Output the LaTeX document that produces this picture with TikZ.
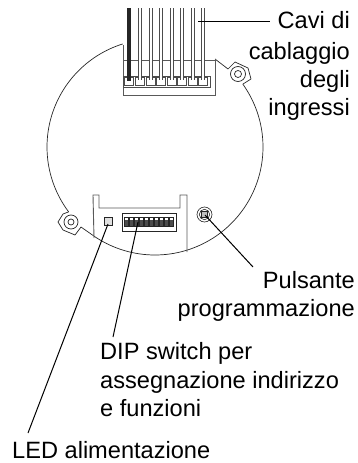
\documentclass[tikz,border=0pt]{standalone}
\usepackage{fontspec}
\setmainfont{Liberation Sans}
\definecolor{gline}{gray}{0.35}
\tikzset{
  body/.style={draw=black!85,line width=0.7pt},
  wall/.style={draw=gline,line width=0.9pt},
  leader/.style={draw=black,line width=1pt},
  lab/.style={font=\fontsize{23.6}{28.4}\selectfont,inner sep=0pt},
  wire/.style={draw=black!70,line width=4.2pt},
  wirecore/.style={draw=white,line width=1.8pt},
  term/.style={draw=black!70,fill=white,line width=1pt},
  cell/.style={draw=black!70,fill=white,line width=0.7pt},
}
\begin{document}
\begin{tikzpicture}[x=1pt,y=-1pt]
\useasboundingbox (0,0) rectangle (357,463);
% body outline
\draw[body] plot[domain=143.1:252.6,samples=60] ({155+108*cos(\x)},{147+108*sin(\x)});
\draw[body] plot[domain=-35.6:124.6,samples=80] ({155+108*cos(\x)},{147+108*sin(\x)});
\coordinate (lt) at ({155+108*cos(143.1)},{147+108*sin(143.1)});
\coordinate (lb) at ({155+108*cos(124.6)},{147+108*sin(124.6)});
\coordinate (rb) at ({155+108*cos(-35.6)},{147+108*sin(-35.6)});
\draw[body,line join=round] (lt) -- (63,214) -- (58,222) -- (63,230) -- (75,235) -- (81,227) -- (lb);
\draw[body,line join=round] (rb) -- (251,79) -- (248,68) -- (235,62) -- (228,69) -- (215,59);
\draw[body] (238,74) circle[radius=7.5];
\draw[body] (238,74) circle[radius=3.5];
\draw[body] (71,222) circle[radius=7];
\draw[body] (71,222) circle[radius=3];
% upper housing
\draw[wall] (123,45) -- (123,95) -- (215,95) -- (215,59);
\draw[wall] (123,60) -- (215,60);
% connector
\draw[term] (123,76) rectangle (210,87);
\foreach \x in {129,140,151,161,172,182,193,203}{
  \draw[cell] (\x-4.2,77.5) rectangle (\x+4.2,85.5);
}
\foreach \x in {140,151,161,172,182,193,203}{
  \draw[wire] (\x,8) -- (\x,80);
  \draw[wirecore] (\x,8) -- (\x,82);
}
\draw[black!85,line width=3.6pt] (129,8) -- (129,81);
% lower bay
\draw[wall] (94,238) -- (93,195) -- (99,195) -- (99,208) -- (180,208) -- (180,195) -- (187,195) -- (187,252);
% LED
\node[draw=black!85,line width=1pt,minimum size=8pt,inner sep=0pt,fill=black!12] (led) at (108.5,221.5) {};
% DIP switch
\node[draw=black!85,line width=0.7pt,minimum width=54pt,minimum height=18pt,inner sep=0pt] (dip) at (149,222.5) {};
\foreach \i in {0,...,9}{
  \draw[black!85,line width=0.7pt,fill=white] (124.5+\i*5,217) rectangle (128+\i*5,226);
  \fill[black!70] (124.5+\i*5,220) rectangle (128+\i*5,226);
}
% button
\node[draw=black!85,circle,line width=0.6pt,minimum size=15pt,inner sep=0pt] (btn) at (204.5,214.5) {};
\draw[black!85,line width=0.6pt] (204.5,214.5) circle[radius=5.2];
\node[draw=black!85,line width=0.7pt,minimum size=6pt,inner sep=0pt,fill=black!25] (btnc) at (204.5,214.5) {};
% labels
\node[lab,anchor=base east] (cavi) at (350,28) {Cavi di};
\node[lab,anchor=base east] (cab) at (350,59) {cablaggio};
\node[lab,anchor=base east] (deg) at (350,87) {degli};
\node[lab,anchor=base east] (ing) at (350,115) {ingressi};
\node[lab,anchor=base east] (puls) at (355,288) {Pulsante};
\node[lab,anchor=base east] (prog) at (355,316) {programmazione};
\node[lab,anchor=base west] (dipl) at (100,359) {DIP switch per};
\node[lab,anchor=base west] (ass) at (100,388) {assegnazione indirizzo};
\node[lab,anchor=base west] (fun) at (100,416) {e funzioni};
\node[lab,anchor=base west] (ledl) at (12,458) {LED alimentazione};
% leaders
\coordinate (a1) at (198,21);
\coordinate (a2) at (270,21);
\draw[leader] (a1) -- (a2);
\coordinate (b1) at (205,215);
\coordinate (b2) at (253,267);
\draw[leader] (b1) -- (b2);
\coordinate (c1) at (138,222);
\coordinate (c2) at (113,337);
\draw[leader] (c1) -- (c2);
\coordinate (d1) at (108,224);
\coordinate (d2) at (28,433);
\draw[leader] (d1) -- (d2);
\end{tikzpicture}
\end{document}
